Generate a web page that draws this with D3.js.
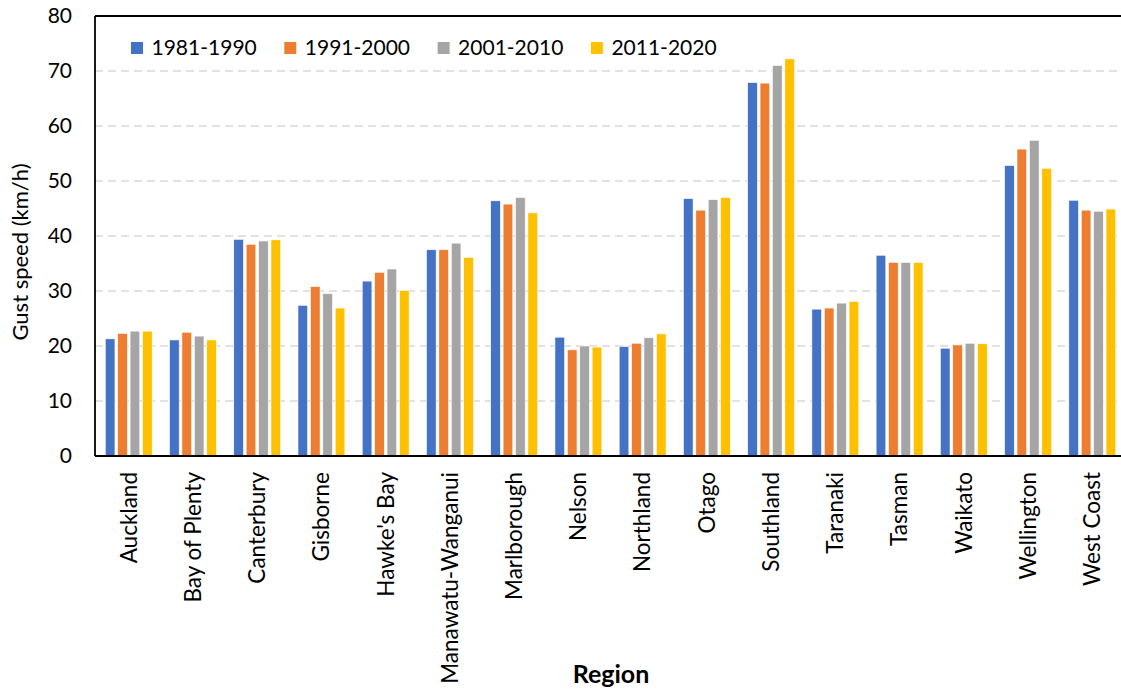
<!DOCTYPE html>
<html>
<head>
<meta charset="utf-8">
<script src="https://cdn.jsdelivr.net/npm/d3@7"></script>
<style>
  body { margin: 0; background: #fff; }
  text { font-family: Lato, "Open Sans", sans-serif; fill: #000; }
</style>
</head>
<body>
<div id="chart"></div>
<script>
// regions on the x axis
var regions = ["Auckland", "Bay of Plenty", "Canterbury", "Gisborne", "Hawke's Bay",
  "Manawatu-Wanganui", "Marlborough", "Nelson", "Northland", "Otago", "Southland",
  "Taranaki", "Tasman", "Waikato", "Wellington", "West Coast"];

var periods = ["1981-1990", "1991-2000", "2001-2010", "2011-2020"];

// gust speed (km/h) per period
var g1981 = [21.3, 21.1, 39.4, 27.4, 31.8, 37.5, 46.4, 21.6, 19.9, 46.8, 67.9, 26.7, 36.5, 19.6, 52.8, 46.5];
var g1991 = [22.3, 22.5, 38.5, 30.8, 33.4, 37.5, 45.8, 19.3, 20.5, 44.7, 67.8, 26.9, 35.2, 20.2, 55.8, 44.7];
var g2001 = [22.7, 21.8, 39.1, 29.5, 34.0, 38.7, 47.0, 20.0, 21.5, 46.6, 71.0, 27.8, 35.2, 20.5, 57.4, 44.5];
var g2011 = [22.7, 21.1, 39.3, 26.9, 30.1, 36.1, 44.2, 19.8, 22.2, 47.0, 72.2, 28.1, 35.2, 20.4, 52.3, 44.9];

var yTicks = [0, 10, 20, 30, 40, 50, 60, 70, 80];
var colors = ["#4472C4", "#ED7D31", "#A5A5A5", "#FFC000"];

var series = [g1981, g1991, g2001, g2011];

var width = 1121, height = 691;
var plotLeft = 95, plotTop = 16, plotRight = 1126, plotBottom = 456;

var svg = d3.select("#chart").append("svg")
    .attr("width", width)
    .attr("height", height);

var x0 = d3.scaleBand().domain(regions).range([plotLeft, plotRight]).paddingInner(0.27).paddingOuter(0.16);
var x1 = d3.scaleBand().domain(d3.range(periods.length)).range([0, x0.bandwidth()]).paddingInner(0.22);
var y = d3.scaleLinear().domain([0, 80]).range([plotBottom, plotTop]);

//gridlines
svg.append("g")
    .selectAll("line")
    .data(yTicks.filter(function (d) { return d > 0 && d < 80; }))
    .enter().append("line")
    .attr("x1", plotLeft).attr("x2", plotRight)
    .attr("y1", function (d) { return y(d); })
    .attr("y2", function (d) { return y(d); })
    .attr("stroke", "#d9d9d9")
    .attr("stroke-width", 1.6)
    .attr("stroke-dasharray", "8,5");

//bars
series.forEach(function (vals, i) {
    svg.append("g")
        .selectAll("rect")
        .data(vals)
        .enter().append("rect")
        .attr("x", function (d, j) { return x0(regions[j]) + x1(i); })
        .attr("y", function (d) { return y(d); })
        .attr("width", x1.bandwidth())
        .attr("height", function (d) { return y(0) - y(d); })
        .attr("fill", colors[i])
        .attr("stroke", "#fff")
        .attr("stroke-width", 0.6);
});

//frame
svg.append("line").attr("x1", plotLeft).attr("x2", plotRight).attr("y1", plotTop).attr("y2", plotTop)
    .attr("stroke", "#000").attr("stroke-width", 1.8);
svg.append("line").attr("x1", plotLeft).attr("x2", plotLeft).attr("y1", plotTop).attr("y2", plotBottom)
    .attr("stroke", "#000").attr("stroke-width", 1.8);
svg.append("line").attr("x1", plotLeft).attr("x2", plotRight).attr("y1", plotBottom).attr("y2", plotBottom)
    .attr("stroke", "#000").attr("stroke-width", 1.8);

//y axis
var yAxis = svg.append("g")
    .attr("transform", "translate(" + plotLeft + ",0)")
    .call(d3.axisLeft(y).tickValues(yTicks).tickSize(0).tickPadding(23));
yAxis.select(".domain").remove();
yAxis.selectAll("text").style("font-size", "21px").style("font-family", "Lato, sans-serif").attr("fill", "#000");

//x axis
var xAxis = svg.append("g")
    .attr("transform", "translate(0," + plotBottom + ")")
    .call(d3.axisBottom(x0).tickSize(0));
xAxis.select(".domain").remove();
xAxis.selectAll("text")
    .style("font-size", "22.5px").style("font-family", "Lato, sans-serif").attr("fill", "#000")
    .attr("text-anchor", "end")
    .attr("dy", "0.35em")
    .attr("transform", "translate(0,16) rotate(-90)")
    .attr("x", 0).attr("y", 0);

//axis titles
svg.append("text")
    .attr("transform", "translate(28,252) rotate(-90)")
    .attr("text-anchor", "middle")
    .style("font-size", "22px")
    .text("Gust speed (km/h)");

svg.append("text")
    .attr("x", 611).attr("y", 683)
    .attr("text-anchor", "middle")
    .style("font-size", "25px")
    .style("font-weight", "bold")
    .text("Region");

//legend
var legend = svg.append("g");
periods.forEach(function (p, i) {
    var lx = 131 + i * 153.3;
    legend.append("rect")
        .attr("x", lx).attr("y", 42)
        .attr("width", 12).attr("height", 12)
        .attr("fill", colors[i]);
    legend.append("text")
        .attr("x", lx + 20.5).attr("y", 48)
        .attr("dy", "0.35em")
        .style("font-size", "21px")
        .text(p);
});
</script>
</body>
</html>
